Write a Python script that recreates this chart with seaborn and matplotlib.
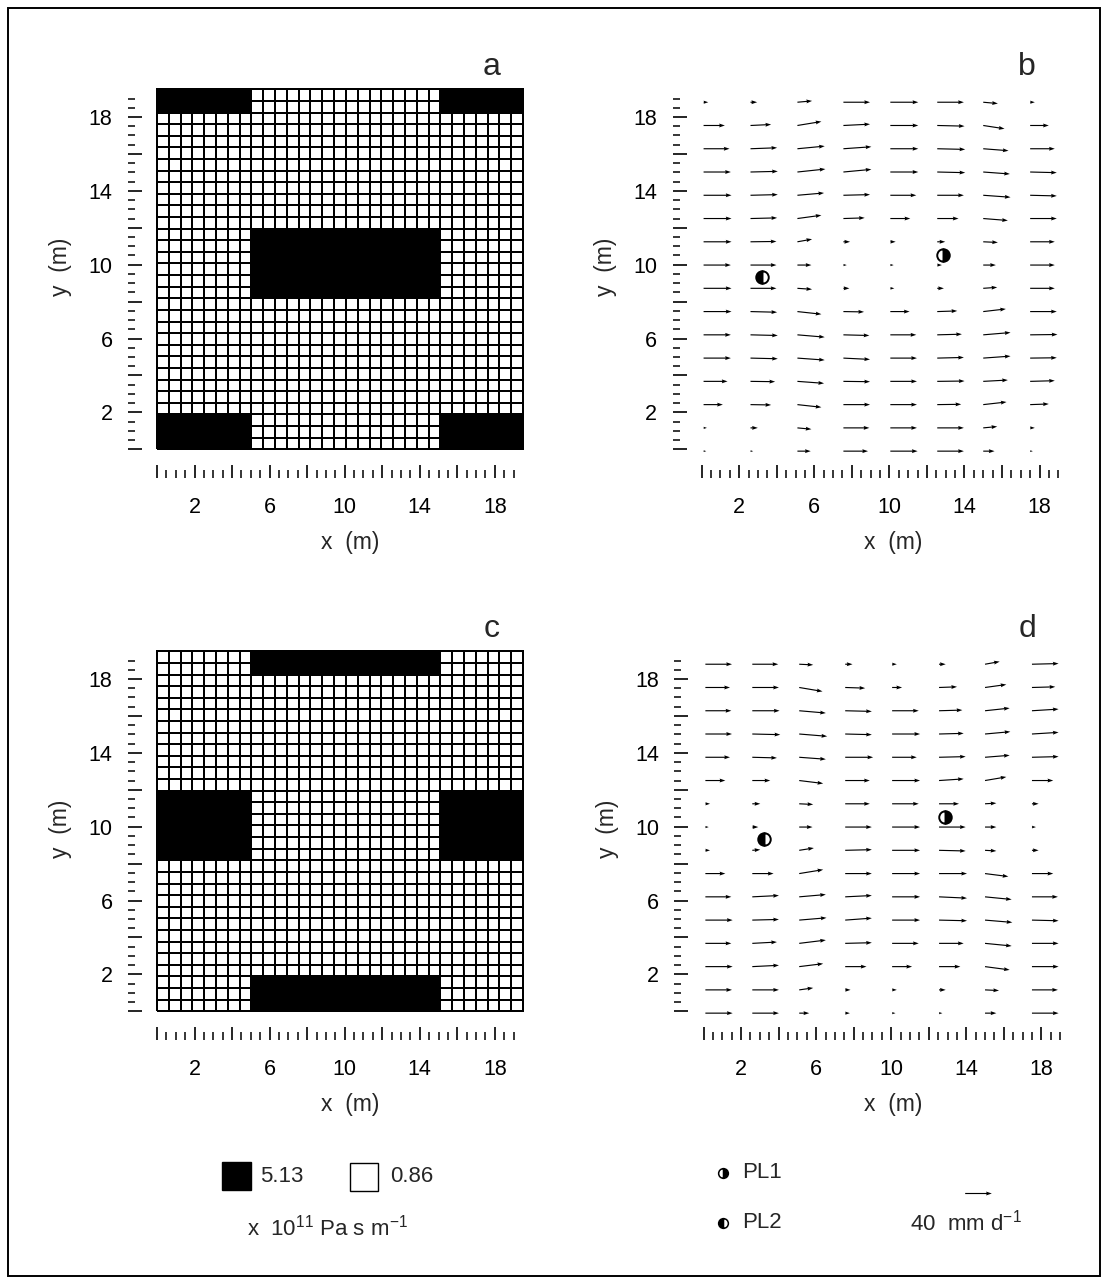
import numpy as np
import pandas as pd
import matplotlib
matplotlib.use("Agg")
import matplotlib.pyplot as plt
import seaborn as sns
from matplotlib.colors import ListedColormap
from matplotlib.ticker import FixedLocator, FuncFormatter
from matplotlib.patches import Rectangle

# ---------------------------------------------------------------- data
N_CELLS = 31            # grid cells per side
DOMAIN_M = 19.5         # grid extent (m)
R_HIGH = 5.13           # x 1e11 Pa s m-1
R_LOW = 0.86

# high-resistance blocks: (col_start, col_end, row_start, row_end), rows from bottom
BLOCKS_A = [(0, 8, 29, 31), (24, 31, 29, 31), (8, 24, 13, 19), (0, 8, 0, 3), (24, 31, 0, 3)]
BLOCKS_C = [(8, 24, 29, 31), (0, 8, 13, 19), (24, 31, 13, 19), (8, 24, 0, 3)]

X_ARROW = [0.1, 2.6, 5.1, 7.55, 10.05, 12.55, 15.0, 17.5]
Y_ARROW = [18.8, 17.54, 16.28, 15.02, 13.76, 12.5, 11.24, 9.98,
           8.72, 7.46, 6.2, 4.94, 3.68, 2.42, 1.16, -0.1]

# flux components (mm/d), rows top -> bottom
U_B = [[7, 10, 22, 40, 42, 40, 22, 7],
       [32, 31, 36, 40, 42, 41, 32, 28],
       [39, 40, 41, 42, 42, 42, 38, 37],
       [41, 41, 42, 42, 42, 42, 40, 40],
       [42, 41, 40, 40, 39, 40, 41, 40],
       [42, 40, 36, 32, 30, 32, 37, 40],
       [42, 39, 22, 10, 8, 12, 22, 37],
       [41, 39, 21, 5, 5, 7, 19, 37],
       [42, 39, 22, 9, 6, 10, 21, 37],
       [42, 40, 36, 31, 29, 30, 34, 40],
       [41, 41, 41, 39, 39, 37, 41, 41],
       [41, 41, 41, 40, 40, 40, 41, 40],
       [36, 37, 40, 40, 40, 41, 37, 37],
       [29, 31, 36, 40, 40, 36, 35, 28],
       [5, 11, 21, 39, 40, 40, 21, 7],
       [4, 4, 20, 37, 41, 40, 17, 4]]
V_B = [[0, 0, 2, 0, 0, 0, -2, 0],
       [0, 1.5, 6, 2, 0, -1, -5, 0],
       [0, 1.5, 4, 3, 0, -1, -3, 0],
       [0, 1, 4.5, 4, 0, -1, -3, -1],
       [0, 1, 3.5, 1, 0, 0, -3, -1],
       [0, 1, 5, 1, 0, 0, -3, 0],
       [0, 0.5, 4, 0, 0, 0, -1, 0],
       [0, 0, 0, 0, 0, 0, 0, 0],
       [0, 0, -1.5, 0, 0, 0, 1.5, 0],
       [0, -1, -4, -0.5, 0, 1, 4, 0],
       [0, -1, -3.5, -1, 0, 1, 3.5, 0.5],
       [0, -1, -3, -2, 0, 1, 3, 0.5],
       [0, -0.5, -3, -0.5, 0, 0.5, 2, 1],
       [0, -0.5, -4, 0, 0, 0.5, 4, 1],
       [0, 0, -2, 0, 0, 0, 2, 0],
       [0, 0, 0, 0, 0, 0, 0, 0]]
U_D = [[40, 39, 21, 11, 7, 10, 22, 40],
       [37, 40, 35, 30, 15, 27, 32, 35],
       [39, 41, 40, 40, 40, 35, 37, 40],
       [40, 42, 42, 40, 42, 37, 38, 40],
       [37, 37, 40, 42, 37, 40, 37, 40],
       [30, 27, 36, 37, 42, 37, 32, 32],
       [7, 12, 21, 37, 40, 30, 17, 10],
       [5, 9, 20, 40, 42, 40, 17, 6],
       [7, 12, 22, 40, 42, 40, 17, 10],
       [30, 32, 36, 40, 42, 42, 35, 32],
       [39, 40, 40, 40, 42, 42, 40, 39],
       [41, 40, 41, 40, 42, 42, 41, 40],
       [39, 37, 40, 40, 40, 37, 40, 40],
       [41, 40, 36, 32, 30, 32, 37, 40],
       [40, 40, 21, 8, 7, 10, 21, 39],
       [41, 40, 15, 7, 5, 5, 17, 40]]
V_D = [[0, 0, -1, 0, 0, 0, 4, 1],
       [0, 0, -6, -1, 0, 1, 4.5, 1],
       [0, 0, -3.5, -1, 0, 1, 4, 2.5],
       [0, -1, -3.5, -1, 0, 1, 3.5, 2.5],
       [0, -1, -3, 0, 0, 1, 3, 1],
       [0, 0, -4.5, 0, 0, 2.5, 5.5, 0],
       [0, 0, -1, 0, 0, 0, 1, 0],
       [0, 0, 0, 0, 0, 0, 0, 0],
       [0, 1, 3.5, 1, 0, -1, -1, 0],
       [0, 0, 6, 0, 0, 0, -4.5, 0],
       [0, 2, 3.5, 2, 0, -2, -4, 0],
       [0, 1, 3.5, 3, 0, -1, -3.5, -1],
       [0, 2, 5, 1, 0, 0, -4, 0],
       [0, 2, 4.5, 0, 0, 0, -5, 0],
       [0, 0, 3, 0, 0, 0, -1, 0],
       [0, 0, 0, 0, 0, 0, 0, 0]]

PL1_XY = (12.85, 10.55)
PL2_XY = (3.2, 9.35)
KEY_SPEED = 40

MAJOR_TICKS = list(range(0, 19, 2))
LABELLED_TICKS = [2, 6, 10, 14, 18]
MINOR_TICKS = [t for t in np.arange(0, 19.01, 0.5) if t % 2 != 0]

# ---------------------------------------------------------------- style
sns.set_style("white")
plt.rcParams["font.family"] = ["Liberation Sans", "DejaVu Sans"]
plt.rcParams["mathtext.fontset"] = "custom"
plt.rcParams["mathtext.rm"] = "Liberation Sans"
plt.rcParams["mathtext.it"] = "Liberation Sans:italic"
plt.rcParams["mathtext.bf"] = "Liberation Sans:bold"

W, H = 1107, 1282
fig = plt.figure(figsize=(W / 100, H / 100), dpi=100)
fig.patch.set_facecolor("white")


def px_axes(left, bottom_y, w, h):
    return fig.add_axes([left / W, 1 - bottom_y / H, w / W, h / H])


def ftext(x, y, s, **kw):
    fig.text(x / W, 1 - y / H, s, **kw)


def setup_ticks(ax, k):
    """k converts metres to axis units"""
    fmt = FuncFormatter(lambda v, p: (f"{int(round(v / k))}"
                                      if int(round(v / k)) in LABELLED_TICKS else ""))
    for axis in (ax.xaxis, ax.yaxis):
        axis.set_major_locator(FixedLocator([m * k for m in MAJOR_TICKS]))
        axis.set_minor_locator(FixedLocator([m * k for m in MINOR_TICKS]))
        axis.set_major_formatter(fmt)
    for s in ax.spines.values():
        s.set_visible(False)
    ax.spines["left"].set_position(("outward", 21))
    ax.spines["bottom"].set_position(("outward", 21))
    ax.tick_params(axis="y", which="major", direction="in", length=10, width=1.2,
                   pad=11, labelsize=15.5, left=True, right=False, color="black",
                   labelcolor="black", labelleft=True)
    ax.tick_params(axis="y", which="minor", direction="in", length=5, width=1.1,
                   left=True, right=False, color="black")
    ax.tick_params(axis="x", which="major", direction="in", length=9.5, width=1.2,
                   pad=13, labelsize=15.5, bottom=True, top=False, color="black",
                   labelcolor="black", labelbottom=True)
    ax.tick_params(axis="x", which="minor", direction="in", length=6, width=1.1,
                   bottom=True, top=False, color="black")
    for lab in ax.get_yticklabels():
        lab.set_rotation(0)


def grid_panel(left, y0, blocks):
    ax = px_axes(left, y0, 366, 360)
    mat = np.full((N_CELLS, N_CELLS), R_LOW)
    for c0, c1, r0, r1 in blocks:
        mat[r0:r1, c0:c1] = R_HIGH
    df = pd.DataFrame(mat)
    sns.heatmap(df, ax=ax, cmap=ListedColormap(["white", "black"]), vmin=R_LOW,
                vmax=R_HIGH, cbar=False, linewidths=1.4, linecolor="black",
                xticklabels=False, yticklabels=False)
    ax.set_xlim(0, N_CELLS)
    ax.set_ylim(0, N_CELLS)
    ax.collections[0].set_clip_on(False)
    setup_ticks(ax, N_CELLS / DOMAIN_M)
    ax.set_xlabel("")
    ax.set_ylabel("")
    return ax


def flux_panel(left, y0, U, V):
    ax = px_axes(left, y0, 366, 360)
    ax.set_xlim(0, DOMAIN_M)
    ax.set_ylim(0, DOMAIN_M)
    ax.patch.set_visible(False)
    XX, YY = np.meshgrid(X_ARROW, Y_ARROW)
    q = ax.quiver(XX, YY, np.array(U, float), np.array(V, float), angles="xy",
                  scale_units="xy", scale=28.2, units="dots", width=1.15,
                  headwidth=3.4, headlength=5.0, headaxislength=4.5,
                  color="black", pivot="tail")
    q.set_clip_on(False)
    ax.plot(*PL1_XY, marker="o", ms=9, fillstyle="right", mfc="black",
            mfcalt="white", mec="black", mew=1.4, clip_on=False, ls="none")
    ax.plot(*PL2_XY, marker="o", ms=9, fillstyle="left", mfc="black",
            mfcalt="white", mec="black", mew=1.4, clip_on=False, ls="none")
    setup_ticks(ax, 1.0)
    return ax, q


ax_a = grid_panel(157, 449.3, BLOCKS_A)
ax_b, q_b = flux_panel(701.7, 449.3, U_B, V_B)
ax_c = grid_panel(157, 1011.3, BLOCKS_C)
ax_d, q_d = flux_panel(703.5, 1011.3, U_D, V_D)

# axis labels and panel letters
for (xc, yc_top, lx, letter) in [(350, 449.3, 157, "a"), (893, 449.3, 701.7, "b"),
                                  (350, 1011.3, 157, "c"), (893, 1011.3, 703.5, "d")]:
    ftext(xc, yc_top + 93, "x  (m)", fontsize=16.5, ha="center", va="center")
    ftext(lx - 96, yc_top - 182, "y  (m)", fontsize=16.5, ha="center", va="center",
          rotation=90)
for (x, y, s) in [(492, 75, "a"), (1027, 75, "b"), (492, 637, "c"), (1027, 637, "d")]:
    ftext(x, y, s, fontsize=23, ha="center", va="baseline")

# quiver key
ax_d.quiverkey(q_d, X=978 / W, Y=1 - 1193 / H, U=KEY_SPEED, label="",
               coordinates="figure", labelpos="N")

# overlay: frame and legends
ov = fig.add_axes([0, 0, 1, 1])
ov.set_xlim(0, W)
ov.set_ylim(H, 0)
ov.axis("off")
ov.patch.set_visible(False)
ov.add_patch(Rectangle((8, 8), 1092, 1268, fill=False, ec="black", lw=1.4))
ov.add_patch(Rectangle((222, 1162), 29, 28, fc="black", ec="black", lw=1))
ov.add_patch(Rectangle((350, 1163), 28, 28, fc="white", ec="black", lw=1))
ov.text(260, 1177, f"{R_HIGH:.2f}", fontsize=16, va="center", ha="left")
ov.text(390, 1177, f"{R_LOW:.2f}", fontsize=16, va="center", ha="left")
ov.text(247, 1228, r"x  10$^{11}$ Pa s m$^{-1}$", fontsize=16, va="center", ha="left")
ov.plot(723, 1173, marker="o", ms=7, fillstyle="right", mfc="black", mfcalt="white",
        mec="black", mew=1.1, ls="none")
ov.plot(723, 1223, marker="o", ms=7, fillstyle="left", mfc="black", mfcalt="white",
        mec="black", mew=1.1, ls="none")
ov.text(742, 1173, "PL1", fontsize=16, va="center", ha="left")
ov.text(742, 1223, "PL2", fontsize=16, va="center", ha="left")
ov.text(910, 1223, r"40  mm d$^{-1}$", fontsize=16, va="center", ha="left")

fig.savefig("out.png", dpi=100, facecolor="white")
